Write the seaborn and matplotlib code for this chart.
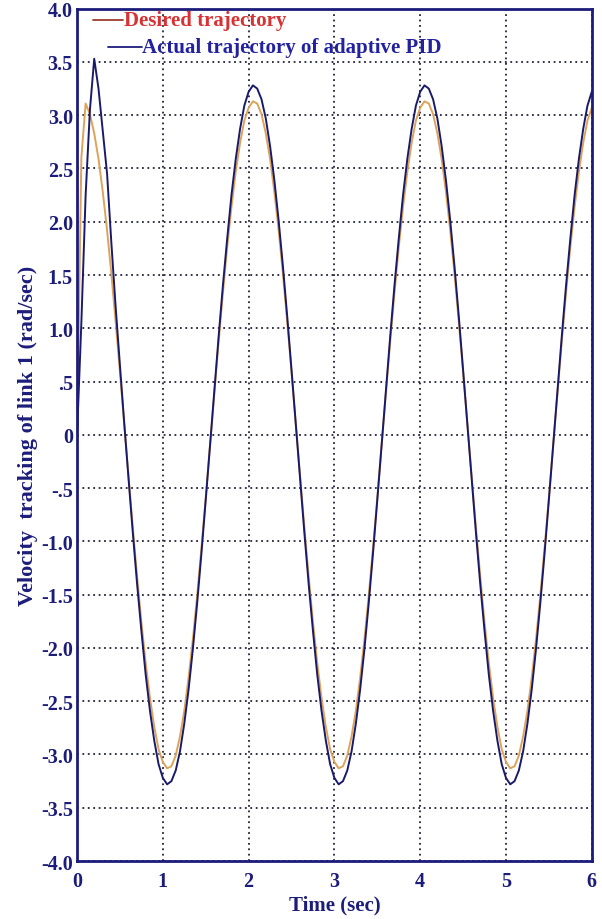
import numpy as np
import pandas as pd
import matplotlib
matplotlib.use("Agg")
import matplotlib.pyplot as plt
from matplotlib.lines import Line2D
from matplotlib.ticker import FixedLocator, FixedFormatter
import seaborn as sns

# Sampling instants (s)
time_s = np.round(np.arange(0, 6.0001, 0.05), 2)

# Desired velocity trajectory of link 1 (rad/sec)
desired = [
    0.00, 2.60,
    3.11, 3.01, 2.83, 2.59, 2.28, 1.92, 1.51, 1.06, 0.59, 0.10,
    -0.39, -0.87, -1.33, -1.76, -2.14, -2.47, -2.74, -2.95, -3.07, -3.13,
    -3.11, -3.01, -2.83, -2.59, -2.28, -1.92, -1.51, -1.06, -0.59, -0.10,
    0.39, 0.87, 1.33, 1.76, 2.14, 2.47, 2.74, 2.95, 3.07, 3.13,
    3.11, 3.01, 2.83, 2.59, 2.28, 1.92, 1.51, 1.06, 0.59, 0.10,
    -0.39, -0.87, -1.33, -1.76, -2.14, -2.47, -2.74, -2.95, -3.07, -3.13,
    -3.11, -3.01, -2.83, -2.59, -2.28, -1.92, -1.51, -1.06, -0.59, -0.10,
    0.39, 0.87, 1.33, 1.76, 2.14, 2.47, 2.74, 2.95, 3.07, 3.13,
    3.11, 3.01, 2.83, 2.59, 2.28, 1.92, 1.51, 1.06, 0.59, 0.10,
    -0.39, -0.87, -1.33, -1.76, -2.14, -2.47, -2.74, -2.95, -3.07, -3.13,
    -3.11, -3.01, -2.83, -2.59, -2.28, -1.92, -1.51, -1.06, -0.59, -0.10,
    0.39, 0.87, 1.33, 1.76, 2.14, 2.47, 2.74, 2.95, 3.07,
]

# Actual velocity of link 1 under the adaptive PID controller (rad/sec)
actual = [
    0.00, 1.05, 2.25, 3.05, 3.53, 3.25, 2.85, 2.45, 1.80, 1.20, 0.65, 0.11,
    -0.41, -0.92, -1.40, -1.84, -2.25, -2.59, -2.87, -3.09, -3.22, -3.28,
    -3.25, -3.15, -2.97, -2.71, -2.39, -2.01, -1.58, -1.11, -0.61, -0.10,
    0.41, 0.92, 1.40, 1.84, 2.25, 2.59, 2.87, 3.09, 3.22, 3.28,
    3.25, 3.15, 2.97, 2.71, 2.39, 2.01, 1.58, 1.11, 0.61, 0.10,
    -0.41, -0.92, -1.40, -1.84, -2.25, -2.59, -2.87, -3.09, -3.22, -3.28,
    -3.25, -3.15, -2.97, -2.71, -2.39, -2.01, -1.58, -1.11, -0.61, -0.10,
    0.41, 0.92, 1.40, 1.84, 2.25, 2.59, 2.87, 3.09, 3.22, 3.28,
    3.25, 3.15, 2.97, 2.71, 2.39, 2.01, 1.58, 1.11, 0.61, 0.10,
    -0.41, -0.92, -1.40, -1.84, -2.25, -2.59, -2.87, -3.09, -3.22, -3.28,
    -3.25, -3.15, -2.97, -2.71, -2.39, -2.01, -1.58, -1.11, -0.61, -0.10,
    0.41, 0.92, 1.40, 1.84, 2.25, 2.59, 2.87, 3.09, 3.22,
]

x_ticks = [0, 1, 2, 3, 4, 5, 6]
x_tick_labels = ["0", "1", "2", "3", "4", "5", "6"]
y_ticks = [4.0, 3.5, 3.0, 2.5, 2.0, 1.5, 1.0, 0.5, 0.0, -0.5, -1.0, -1.5,
           -2.0, -2.5, -3.0, -3.5, -4.0]
y_tick_labels = ["4.0", "3.5", "3.0", "2.5", "2.0", "1.5", "1.0", ".5", "0",
                 "-.5", "-1.0", "-1.5", "-2.0", "-2.5", "-3.0", "-3.5", "-4.0"]

series_names = ["Desired trajectory", "Actual trajectory of adaptive PID"]

df = pd.DataFrame({"t": time_s, "desired": desired, "actual": actual})

sns.set_theme(style="white")
plt.rcParams["font.family"] = ["Liberation Serif", "DejaVu Serif"]

NAVY = "#1c1c7a"
CURVE_ORANGE = "#dba35c"
CURVE_NAVY = "#1a1a6a"

fig = plt.figure(figsize=(6.02, 9.2), dpi=100)
ax = fig.add_axes([0.128, 0.063, 0.855, 0.9265])

sns.lineplot(data=df, x="t", y="desired", ax=ax, color=CURVE_ORANGE,
             linewidth=1.4, estimator=None, sort=False)
sns.lineplot(data=df, x="t", y="actual", ax=ax, color=CURVE_NAVY,
             linewidth=1.4, estimator=None, sort=False)

ax.set_xlim(0, 6)
ax.set_ylim(-4, 4)
ax.xaxis.set_major_locator(FixedLocator(x_ticks))
ax.xaxis.set_major_formatter(FixedFormatter(x_tick_labels))
ax.yaxis.set_major_locator(FixedLocator(y_ticks))
ax.yaxis.set_major_formatter(FixedFormatter(y_tick_labels))
ax.tick_params(axis="both", length=0, labelsize=14.5, labelcolor=NAVY)
ax.tick_params(axis="x", pad=7)
ax.tick_params(axis="y", pad=3)
for lab in ax.get_xticklabels() + ax.get_yticklabels():
    lab.set_fontweight("bold")

ax.grid(True, linestyle=(0, (1, 2)), color="#22223a", linewidth=1.3)
ax.set_axisbelow(True)

for side in ["top", "bottom", "left", "right"]:
    ax.spines[side].set_visible(True)
    ax.spines[side].set_color(NAVY)
    ax.spines[side].set_linewidth(2.0)

ax.set_xlabel("Time (sec)", fontsize=15, fontweight="bold", color=NAVY,
              labelpad=3)
ax.set_ylabel("Velocity  tracking of link 1 (rad/sec)", fontsize=16,
              fontweight="bold", color=NAVY, labelpad=2)

# Staggered legend entries in the upper-left corner
tr = ax.transAxes
ax.add_line(Line2D([0.031, 0.090], [0.987, 0.987], transform=tr,
                   color="#9a3b2a", linewidth=1.3))
ax.text(0.091, 0.987, series_names[0], transform=tr, color="#d83232",
        fontsize=15, fontweight="bold", va="center", ha="left")
ax.add_line(Line2D([0.060, 0.126], [0.955, 0.955], transform=tr,
                   color=NAVY, linewidth=1.3))
ax.text(0.127, 0.955, series_names[1], transform=tr, color="#2222a0",
        fontsize=15, fontweight="bold", va="center", ha="left")

fig.savefig("out.png", dpi=100)
